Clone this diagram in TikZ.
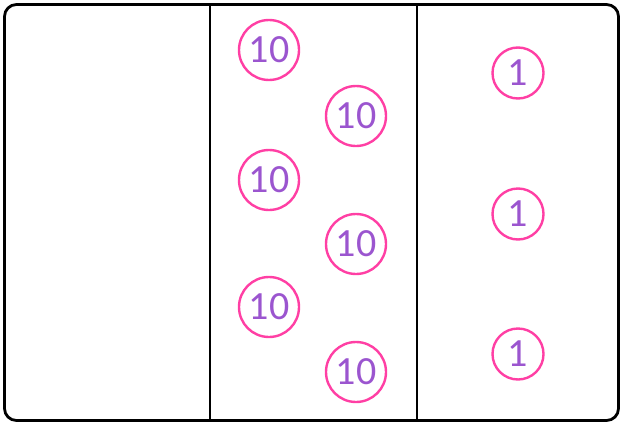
\documentclass[tikz,border=0pt]{standalone}
\usepackage{fontspec}
\setmainfont{Carlito}
\definecolor{ringpink}{HTML}{FF3FA4}
\definecolor{numpurple}{HTML}{9B55CF}
\begin{document}
\begin{tikzpicture}[x=1pt,y=-1pt,
  tens/.style={circle,draw=ringpink,line width=2.4pt,minimum size=60pt,inner sep=0pt,text=numpurple,font=\fontsize{40}{40}\selectfont},
  ones/.style={circle,draw=ringpink,line width=2.4pt,minimum size=51pt,inner sep=0pt,text=numpurple,font=\fontsize{40}{40}\selectfont}]
\useasboundingbox (0,0) rectangle (620,423);
\draw[line width=2.8pt,rounded corners=12pt] (4.5,4.5) rectangle (618.5,420.5);
\coordinate (l1t) at (210,4.5); \coordinate (l1b) at (210,420.5);
\coordinate (l2t) at (417,4.5); \coordinate (l2b) at (417,420.5);
\draw[line width=2pt] (l1t) -- (l1b);
\draw[line width=2pt] (l2t) -- (l2b);
\node[tens] (t1) at (269,50) {10};
\node[tens] (t2) at (356,116) {10};
\node[tens] (t3) at (269,180) {10};
\node[tens] (t4) at (356,244) {10};
\node[tens] (t5) at (269,307) {10};
\node[tens] (t6) at (356,372) {10};
\node[ones] (o1) at (518,73) {1};
\node[ones] (o2) at (518,214) {1};
\node[ones] (o3) at (518,354) {1};
\end{tikzpicture}
\end{document}
